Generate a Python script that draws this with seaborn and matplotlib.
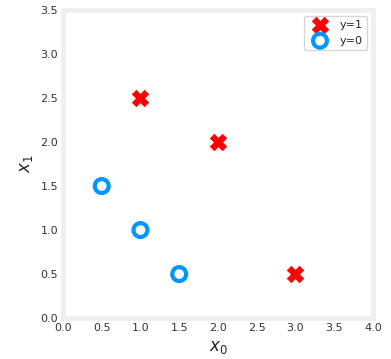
import numpy as np
import pandas as pd
import matplotlib
matplotlib.use("Agg")
import matplotlib.pyplot as plt
import seaborn as sns

# training points
x0_pos = [1.0, 2.0, 3.0]
x1_pos = [2.5, 2.0, 0.5]
x0_neg = [0.5, 1.0, 1.5]
x1_neg = [1.5, 1.0, 0.5]

sns.set_style("white")
plt.rcParams['font.family'] = ['DejaVu Sans']

fig, ax = plt.subplots(figsize=(3.91, 3.59), dpi=100)
fig.subplots_adjust(left=0.161, right=0.954, top=0.972, bottom=0.114)

pos = pd.DataFrame({'x0': x0_pos, 'x1': x1_pos})
neg = pd.DataFrame({'x0': x0_neg, 'x1': x1_neg})

sns.scatterplot(data=pos, x='x0', y='x1', marker='X', s=140, color='red',
                edgecolor='red', linewidth=0.5, label='y=1', ax=ax)
ax.scatter(neg['x0'], neg['x1'], marker='o', s=100, facecolors='none',
           edgecolors='#0096ff', linewidths=3, label='y=0')

ax.set_xlim(0, 4)
ax.set_ylim(0, 3.5)
ax.set_xticks(np.arange(0, 4.01, 0.5))
ax.set_yticks(np.arange(0, 3.51, 0.5))
ax.tick_params(labelsize=8, length=0, colors='#333333')
ax.set_xlabel('$x_0$', fontsize=12)
ax.set_ylabel('$x_1$', fontsize=12)
for sp in ax.spines.values():
    sp.set_color('#efefef')
    sp.set_linewidth(3.5)
ax.legend(loc='upper right', fontsize=8, frameon=True)

fig.savefig('out.png', dpi=100)
